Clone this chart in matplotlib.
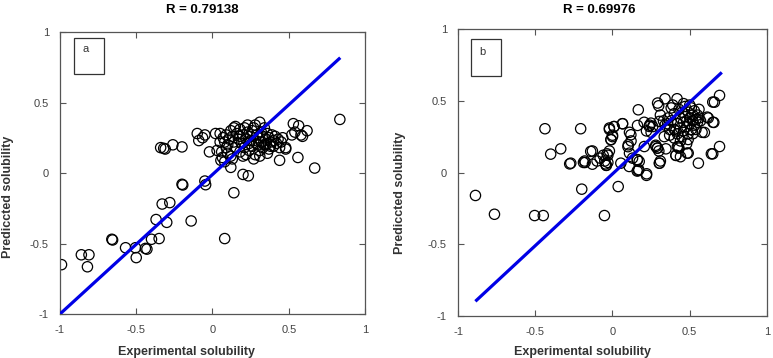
import matplotlib.pyplot as plt
from matplotlib.patches import Rectangle

plt.rcParams["font.family"] = ["Liberation Sans", "DejaVu Sans"]

# panel a: experimental vs predicted
exp_a = [
    -0.99, -0.86, -0.81, -0.82, -0.66, -0.655, -0.57, -0.505, -0.50, -0.44, -0.43, -0.40, -0.35,
    -0.37, -0.30, -0.33, -0.28, -0.20, -0.195, -0.14, -0.05, -0.045, 0.08, 0.14, 0.12, 0.20, 0.235,
    0.67, 0.56, 0.835, 0.53, 0.565, 0.62, 0.59, 0.52, 0.58, 0.54, 0.48, 0.44, -0.34, -0.31, -0.32,
    -0.26, -0.20, -0.10, -0.09, -0.05, -0.065, -0.02, 0.02, 0.03, 0.055, 0.065,
    0.05, 0.07, 0.08, 0.09, 0.10, 0.11, 0.12, 0.13, 0.14, 0.15, 0.15, 0.16, 0.17, 0.18, 0.18, 0.19,
    0.20, 0.21, 0.21, 0.22, 0.22, 0.23, 0.24, 0.24, 0.25, 0.26, 0.26, 0.27, 0.28, 0.28, 0.29, 0.30,
    0.30, 0.31, 0.31, 0.32, 0.32, 0.33, 0.33, 0.34, 0.35, 0.35, 0.36, 0.37, 0.37, 0.38, 0.39, 0.40,
    0.40, 0.41, 0.42, 0.43, 0.44, 0.45, 0.46, 0.48, 0.13, 0.10, 0.06, 0.08, 0.12, 0.20, 0.27, 0.31,
    0.36, 0.14, 0.23, 0.27, 0.05, 0.09, 0.18, 0.25, 0.29, 0.34, 0.38,
]
pred_a = [
    -0.65, -0.58, -0.58, -0.665, -0.47, -0.475, -0.53, -0.53, -0.60, -0.535, -0.54, -0.47, -0.465,
    -0.33, -0.35, -0.22, -0.21, -0.08, -0.085, -0.34, -0.057, -0.083, -0.465, -0.14, 0.04, -0.01, -0.02,
    0.035, 0.11, 0.38, 0.35, 0.335, 0.30, 0.26, 0.27, 0.27, 0.29, 0.18, 0.09, 0.18, 0.17, 0.175,
    0.20, 0.185, 0.28, 0.23, 0.27, 0.25, 0.15, 0.28, 0.16, 0.09, 0.11,
    0.28, 0.25, 0.22, 0.27, 0.20, 0.24, 0.30, 0.26, 0.22, 0.33, 0.18, 0.28, 0.24, 0.31, 0.15, 0.21,
    0.27, 0.18, 0.32, 0.24, 0.13, 0.29, 0.21, 0.16, 0.26, 0.30, 0.19, 0.23, 0.34, 0.13, 0.27, 0.20,
    0.25, 0.36, 0.16, 0.29, 0.22, 0.18, 0.26, 0.32, 0.24, 0.20, 0.28, 0.17, 0.25, 0.22, 0.27, 0.19,
    0.23, 0.26, 0.21, 0.24, 0.18, 0.22, 0.25, 0.17, 0.10, 0.14, 0.15, 0.08, 0.12, 0.12, 0.10, 0.12,
    0.14, 0.32, 0.34, 0.32, 0.22, 0.18, 0.26, 0.23, 0.21, 0.20, 0.19,
]

# panel b
exp_b = [
    -0.887, -0.764, -0.504, -0.448, -0.052, -0.199, 0.037, -0.437, -0.206, -0.40, -0.335, -0.277,
    -0.188, -0.177, -0.141, -0.13, -0.08, -0.04, -0.045, -0.035, -0.03, -0.03, -0.02, 0.01, -0.01,
    0.0, 0.065, 0.054, 0.108, 0.102, 0.119, 0.167, 0.162, 0.162, 0.173, 0.167, 0.221, 0.206, 0.238,
    0.249, 0.281, 0.292, 0.303, 0.292, 0.299, 0.34, 0.303, 0.346, 0.357, 0.418, 0.411, 0.426, 0.483,
    0.556, 0.595, 0.613, 0.649, 0.649, 0.656, 0.693, 0.693, 0.38, 0.66, 0.62, 0.65, 0.58, 0.64,
    0.065, 0.01, -0.02, 0.0, -0.01, 0.11, 0.12, 0.10, 0.11, 0.13, 0.16, 0.17, 0.22, 0.16,
    0.205, 0.24, 0.26, 0.25, 0.22, 0.28, 0.29, 0.30, 0.31, 0.305,
    0.335, 0.37, 0.40, 0.42, 0.41, 0.43, 0.48, 0.49, 0.44, -0.13, -0.18, -0.27, -0.05, -0.04,
    -0.06, -0.02, -0.10,
    0.38, 0.40, 0.40, 0.42, 0.42, 0.43, 0.44, 0.44, 0.45, 0.45, 0.46, 0.46, 0.47, 0.47, 0.48, 0.48,
    0.49, 0.49, 0.50, 0.50, 0.51, 0.51, 0.52, 0.52, 0.53, 0.53, 0.54, 0.54, 0.55, 0.55, 0.56, 0.56,
    0.57, 0.49, 0.52, 0.36, 0.34, 0.39, 0.46, 0.50, 0.44, 0.41, 0.37, 0.33, 0.31,
]
pred_b = [
    -0.16, -0.291, -0.30, -0.30, -0.30, -0.116, -0.098, 0.305, 0.305, 0.128, 0.165, 0.06,
    0.07, 0.07, 0.147, 0.058, 0.10, 0.05, 0.06, 0.13, 0.12, 0.07, 0.31, 0.32, 0.228,
    0.25, 0.34, 0.065, 0.042, 0.193, 0.263, 0.437, 0.328, 0.088, 0.077, 0.014, -0.009, 0.181, 0.321,
    0.344, 0.181, 0.17, 0.065, 0.484, 0.465, 0.514, 0.356, 0.165, 0.34, 0.514, 0.119, 0.181, 0.135,
    0.065, 0.279, 0.386, 0.13, 0.491, 0.349, 0.537, 0.181, 0.45, 0.49, 0.38, 0.35, 0.28, 0.13,
    0.34, 0.32, 0.30, 0.26, 0.23, 0.28, 0.22, 0.18, 0.135, 0.10, 0.09, 0.02, -0.02, 0.01,
    0.35, 0.33, 0.32, 0.28, 0.29, 0.19, 0.17, 0.15, 0.08, 0.065,
    0.25, 0.26, 0.24, 0.18, 0.12, 0.17, 0.20, 0.135, 0.11, 0.15, 0.08, 0.065, 0.08, 0.05,
    0.12, 0.15, 0.08,
    0.36, 0.30, 0.41, 0.34, 0.27, 0.44, 0.38, 0.31, 0.25, 0.42, 0.35, 0.29, 0.39, 0.46, 0.32, 0.36,
    0.27, 0.42, 0.34, 0.38, 0.30, 0.45, 0.36, 0.40, 0.33, 0.43, 0.37, 0.30, 0.40, 0.35, 0.44, 0.38,
    0.36, 0.23, 0.27, 0.38, 0.33, 0.47, 0.48, 0.47, 0.22, 0.29, 0.30, 0.36, 0.40,
]

# fitted lines (end points)
fit_a_x = [-0.99, 0.83]
fit_a_y = [-0.99, 0.81]
fit_b_x = [-0.88, 0.70]
fit_b_y = [-0.89, 0.69]

titles = ["R = 0.79138", "R = 0.69976"]
tags = ["a", "b"]
ticks = [-1, -0.5, 0, 0.5, 1]
tick_labels = ["-1", "-0.5", "0", "0.5", "1"]

fig = plt.figure(figsize=(7.73, 3.58), dpi=100)
ax_a = fig.add_axes([0.0776, 0.1229, 0.3946, 0.7877])
ax_b = fig.add_axes([0.5925, 0.1173, 0.3997, 0.8017])

panels = [
    (ax_a, exp_a, pred_a, fit_a_x, fit_a_y, (0.046, 0.851, 0.098, 0.128)),
    (ax_b, exp_b, pred_b, fit_b_x, fit_b_y, (0.041, 0.836, 0.097, 0.129)),
]

for ax, xs, ys, lx, ly, box in panels:
    ax.scatter(xs, ys, s=55, facecolors="none", edgecolors="black", linewidths=0.9, zorder=2)
    ax.plot(lx, ly, color="#0000e6", linewidth=2.3, zorder=3)
    ax.set_xlim(-1, 1)
    ax.set_ylim(-1, 1)
    ax.set_xticks(ticks)
    ax.set_yticks(ticks)
    ax.set_xticklabels(tick_labels)
    ax.set_yticklabels(tick_labels)
    ax.tick_params(direction="in", top=True, right=True, length=4, width=0.8,
                   color="#555555", labelcolor="#444444", labelsize=8, pad=8)
    for sp in ax.spines.values():
        sp.set_color("#555555")
        sp.set_linewidth(0.9)
    ax.add_patch(Rectangle((box[0], box[1]), box[2], box[3], transform=ax.transAxes,
                           facecolor="white", edgecolor="#333333", linewidth=0.9, zorder=4))

ax_a.text(0.085, 0.94, tags[0], transform=ax_a.transAxes, fontsize=8, ha="center", va="center", color="#333333", zorder=5)
ax_b.text(0.08, 0.92, tags[1], transform=ax_b.transAxes, fontsize=8, ha="center", va="center", color="#333333", zorder=5)

fig.text(202 / 773, 1 - 10 / 358, titles[0], ha="center", va="center", fontsize=9.5, fontweight="bold")
fig.text(599 / 773, 1 - 10 / 358, titles[1], ha="center", va="center", fontsize=9.5, fontweight="bold")

fig.text(8 / 773, 1 - 197 / 358, "Prediccted solubility", rotation=90, ha="center", va="center", fontsize=9, fontweight="bold", color="#333333")
fig.text(400 / 773, 1 - 193 / 358, "Prediccted solubility", rotation=90, ha="center", va="center", fontsize=9, fontweight="bold", color="#333333")

fig.text(187 / 773, 1 - 346 / 358, "Experimental solubility", ha="center", va="top", fontsize=9, fontweight="bold", color="#333333")
fig.text(583 / 773, 1 - 346 / 358, "Experimental solubility", ha="center", va="top", fontsize=9, fontweight="bold", color="#333333")

fig.savefig("out.png", dpi=100)
plt.close(fig)
